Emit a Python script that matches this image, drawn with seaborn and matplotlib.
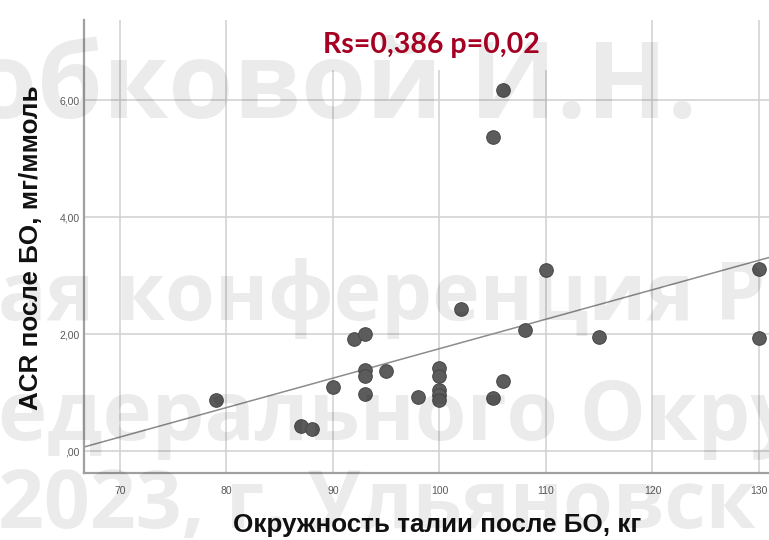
import matplotlib
matplotlib.use("Agg")
import matplotlib.pyplot as plt
from matplotlib.patches import Rectangle
import numpy as np
import pandas as pd
import seaborn as sns

# Waist circumference after bariatric surgery (kg) vs ACR after surgery (mg/mmol)
waist = [79, 87, 88, 90, 92, 93, 93, 93, 93, 95, 98,
         100, 100, 100, 100, 100, 102, 105, 106, 105, 106,
         108, 110, 115, 130, 130]
acr = [0.87, 0.43, 0.38, 1.09, 1.91, 2.00, 1.38, 1.28, 0.97, 1.37, 0.92,
       1.42, 1.28, 1.05, 0.95, 0.88, 2.43, 0.91, 1.20, 5.37, 6.17,
       2.07, 3.09, 1.95, 3.11, 1.93]

x_ticks = [70, 80, 90, 100, 110, 120, 130]
y_ticks = [0, 2, 4, 6]
y_tick_labels = [",00", "2,00", "4,00", "6,00"]

x_label = "Окружность талии после БО, кг"
y_label = "ACR после БО, мг/ммоль"
stat_text = "Rs=0,386 p=0,02"
watermark_lines = ["обковой И.Н.", "ая конференция Р", "едерального Округ", "2023, г. Ульяновск"]

df = pd.DataFrame({"waist": waist, "acr": acr})

sns.set_theme(style="white")
plt.rcParams["font.family"] = ["Liberation Sans", "DejaVu Sans"]

W, H = 769, 540
fig = plt.figure(figsize=(W / 100, H / 100), dpi=100)
ax = fig.add_axes([84 / W, (H - 473) / H, (W - 84) / W, (473 - 20) / H])

ax.set_xlim(66.62, 130.94)
ax.set_ylim(-0.376, 7.37)

sns.regplot(data=df, x="waist", y="acr", ax=ax, ci=None, truncate=False,
            scatter_kws=dict(s=95, color="#5c5c5c", edgecolor="#4a4a4a",
                             linewidths=0.8, alpha=1, zorder=3),
            line_kws=dict(color="#8c8c8c", lw=1.1, zorder=2))

ax.set_xticks(x_ticks)
ax.set_xticklabels([str(t) for t in x_ticks])
ax.set_yticks(y_ticks)
ax.set_yticklabels(y_tick_labels)
ax.tick_params(axis="both", length=0, labelsize=7.5, colors="#5a5a5a")
ax.tick_params(axis="x", pad=9)
ax.tick_params(axis="y", pad=3)

ax.grid(True, color="#cfcfcf", lw=1.1)
ax.set_axisbelow(True)
for side in ["top", "right"]:
    ax.spines[side].set_visible(False)
for side in ["left", "bottom"]:
    ax.spines[side].set_color("#a0a0a0")
    ax.spines[side].set_linewidth(1.6)

ax.set_xlabel(x_label, fontsize=18.7, fontweight="bold", color="#111111")
ax.set_ylabel(y_label, fontsize=18.7, fontweight="bold", color="#111111")
ax.xaxis.set_label_coords((437 - 84) / (W - 84), -(513 - 473) / 453)
ax.yaxis.set_label_coords(-(84 - 43) / (W - 84), (473 - 248) / 453)

# white panel behind the correlation annotation
fig.add_artist(Rectangle((300 / W, 1 - 70 / H), 285 / W, 52 / H,
                         transform=fig.transFigure, fc="white", ec="none", zorder=1))
fig.text(431 / W, 1 - 45 / H, stat_text, ha="center", va="center",
         fontsize=20.5, fontweight="bold", color="#a50021",
         family=["Lato", "DejaVu Sans"], zorder=5)

# conference watermark overlay
wm_specs = [
    (697, 118, "right", 76),
    (-2, 320, "left", 58),
    (-2, 440, "left", 60),
    (-2, 528, "left", 58),
]
for line, (px, py, ha, fs) in zip(watermark_lines, wm_specs):
    fig.text(px / W, 1 - py / H, line, ha=ha, va="baseline", fontsize=fs,
             fontweight="bold", family=["Open Sans", "DejaVu Sans"],
             color="black", alpha=0.08, zorder=4)

fig.savefig("out.png", dpi=100)
